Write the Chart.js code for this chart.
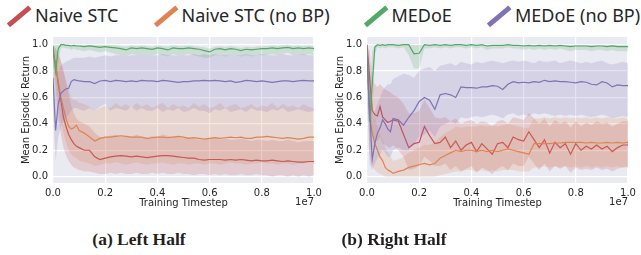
<!DOCTYPE html>
<html><head><meta charset="utf-8">
<script src="https://cdn.jsdelivr.net/npm/chart.js@4.4.1/dist/chart.umd.min.js"></script>
<style>
html,body{margin:0;padding:0;background:#fff;width:641px;height:255px;overflow:hidden;position:relative;font-family:"Noto Sans",sans-serif;}
.mk{position:absolute;width:28px;height:4.5px;transform:rotate(-40deg);transform-origin:center;}
.lt{position:absolute;top:4px;font-size:18px;line-height:22px;color:#262626;white-space:nowrap;}
.cap{position:absolute;top:229px;font-family:"Liberation Serif",serif;font-weight:bold;font-size:17.5px;color:#231f20;white-space:nowrap;transform:translateX(-50%);}
canvas{position:absolute;top:30px;}
</style></head><body>
<div id="legend"></div>
<canvas id="cA" width="324" height="190" style="left:0px"></canvas>
<canvas id="cB" width="324" height="190" style="left:313.5px"></canvas>
<div class="cap" style="left:139px">(a) Left Half</div>
<div class="cap" style="left:394px">(b) Right Half</div>
<script>
const seriesNames = ['Naive STC','Naive STC (no BP)','MEDoE','MEDoE (no BP)'];
const seriesColors = ['#c44e52','#dd8452','#55a868','#8172b3'];
const xTicks = [0,0.2,0.4,0.6,0.8,1.0];
const yTicks = [0,0.2,0.4,0.6,0.8,1.0];
const X = [0,0.01,0.02,0.03,0.04,0.05,0.06,0.07,0.08,0.09,0.10,0.12,0.14,0.16,0.18,0.20,0.22,0.24,0.26,0.28,0.30,0.32,0.34,0.36,0.38,0.40,0.42,0.44,0.46,0.48,0.50,0.52,0.54,0.56,0.58,0.60,0.62,0.64,0.66,0.68,0.70,0.72,0.74,0.76,0.78,0.80,0.82,0.84,0.86,0.88,0.90,0.92,0.94,0.96,0.98,1.00];

// ---- (a) Left Half ----
const aRed   = [0.95,0.85,0.7,0.58,0.45,0.38,0.32,0.28,0.25,0.23, 0.22,0.2,0.2,0.15,0.13,0.14,0.15,0.155,0.16,0.155, 0.15,0.155,0.15,0.145,0.15,0.155,0.16,0.16,0.155,0.15, 0.145,0.14,0.14,0.13,0.125,0.13,0.13,0.13,0.125,0.13, 0.125,0.13,0.125,0.12,0.125,0.12,0.12,0.125,0.12,0.115, 0.12,0.115,0.11,0.11,0.115,0.115];
const aRedLo = [0.88,0.65,0.45,0.32,0.22,0.16,0.12,0.09,0.07,0.06, 0.05,0.04,0.04,0.03,0.02,0.02,0.03,0.02,0.03,0.02, 0.02,0.03,0.02,0.02,0.03,0.02,0.03,0.02,0.02,0.03, 0.02,0.02,0.01,0.02,0.02,0.01,0.02,0.01,0.02,0.01, 0.01,0.02,0.01,0.01,0.02,0.01,0.01,0.0,0.01,0.01, 0.0,0.01,0.0,0.01,0.0,0.01];
const aRedHi = [0.99,0.97,0.93,0.88,0.8,0.72,0.62,0.54,0.48,0.44, 0.42,0.4,0.38,0.33,0.3,0.3,0.31,0.32,0.3,0.31, 0.3,0.32,0.3,0.29,0.31,0.3,0.32,0.31,0.3,0.3, 0.29,0.3,0.29,0.28,0.28,0.29,0.3,0.28,0.29,0.28, 0.28,0.29,0.28,0.27,0.28,0.28,0.27,0.28,0.27,0.27, 0.28,0.27,0.26,0.27,0.27,0.27];
const aOrg   = [0.95,0.85,0.72,0.6,0.52,0.44,0.38,0.36,0.37,0.39, 0.35,0.33,0.3,0.27,0.29,0.3,0.3,0.305,0.31,0.305, 0.3,0.3,0.3,0.29,0.295,0.3,0.3,0.295,0.3,0.305, 0.3,0.29,0.295,0.29,0.285,0.29,0.295,0.29,0.295,0.3, 0.295,0.3,0.29,0.29,0.3,0.3,0.305,0.3,0.295,0.29, 0.295,0.29,0.285,0.29,0.3,0.3];
const aOrgLo = [0.9,0.72,0.55,0.42,0.33,0.26,0.2,0.17,0.15,0.14, 0.12,0.11,0.1,0.08,0.09,0.1,0.1,0.11,0.1,0.09, 0.1,0.11,0.1,0.09,0.1,0.1,0.11,0.1,0.09,0.1, 0.1,0.09,0.1,0.1,0.09,0.1,0.1,0.09,0.1,0.11, 0.1,0.1,0.09,0.1,0.1,0.11,0.1,0.1,0.09,0.1, 0.1,0.09,0.1,0.1,0.11,0.1];
const aOrgHi = [1.0,0.97,0.93,0.88,0.8,0.72,0.66,0.6,0.58,0.58, 0.56,0.55,0.53,0.5,0.52,0.54,0.52,0.56,0.53,0.55, 0.52,0.56,0.53,0.55,0.52,0.54,0.56,0.52,0.55,0.53, 0.54,0.52,0.56,0.53,0.55,0.52,0.53,0.56,0.52,0.54, 0.55,0.52,0.53,0.55,0.52,0.54,0.53,0.56,0.52,0.55, 0.53,0.54,0.52,0.55,0.53,0.52];
const aGrn   = [0.99,0.80,0.97,1.0,1.0,0.995,0.995,0.99,0.995,0.99, 0.99,0.985,0.99,0.985,0.98,0.985,0.98,0.975,0.97,0.96, 0.975,0.97,0.975,0.97,0.965,0.975,0.97,0.96,0.975,0.97, 0.97,0.975,0.97,0.965,0.955,0.945,0.965,0.97,0.96,0.97, 0.965,0.955,0.965,0.96,0.965,0.97,0.97,0.975,0.97,0.975, 0.98,0.97,0.975,0.97,0.975,0.97];
const aGrnLo = [0.95,0.55,0.85,0.97,0.98,0.97,0.97,0.96,0.97,0.96, 0.96,0.95,0.96,0.95,0.94,0.95,0.94,0.93,0.92,0.91, 0.93,0.92,0.93,0.92,0.92,0.93,0.92,0.91,0.93,0.92, 0.92,0.93,0.92,0.91,0.9,0.9,0.92,0.92,0.91,0.92, 0.92,0.91,0.92,0.91,0.92,0.92,0.92,0.93,0.92,0.93, 0.94,0.92,0.93,0.92,0.93,0.92];
const aGrnHi = [1,1,1,1,1,1,1,1,1,1, 1,1,1,1,1,1,1,0.995,0.99,0.985, 0.995,0.99,0.995,0.99,0.985,0.995,0.99,0.985,0.995,0.99, 0.99,0.995,0.99,0.985,0.98,0.97,0.985,0.99,0.98,0.99, 0.985,0.975,0.985,0.98,0.985,0.99,0.99,0.995,0.99,0.995, 1,0.99,0.995,0.99,0.995,0.99];
const aPur   = [0.75,0.35,0.55,0.63,0.65,0.665,0.67,0.72,0.735,0.73, 0.725,0.72,0.72,0.705,0.725,0.73,0.72,0.73,0.725,0.72, 0.725,0.72,0.73,0.725,0.725,0.72,0.73,0.725,0.72,0.715, 0.72,0.72,0.725,0.725,0.73,0.725,0.73,0.725,0.72,0.725, 0.715,0.72,0.73,0.725,0.72,0.725,0.72,0.715,0.72,0.725, 0.725,0.72,0.725,0.73,0.725,0.725];
const aPurLo = [0.5,0.12,0.3,0.38,0.42,0.45,0.47,0.5,0.52,0.52, 0.51,0.5,0.52,0.5,0.53,0.55,0.5,0.52,0.51,0.5, 0.53,0.5,0.52,0.5,0.5,0.52,0.49,0.51,0.5,0.52, 0.49,0.5,0.52,0.5,0.5,0.48,0.51,0.5,0.52,0.49, 0.5,0.51,0.49,0.52,0.5,0.5,0.49,0.51,0.5,0.52, 0.49,0.5,0.51,0.5,0.49,0.5];
const aPurHi = [0.97,0.6,0.8,0.84,0.86,0.87,0.88,0.89,0.9,0.9, 0.9,0.9,0.91,0.9,0.91,0.92,0.91,0.92,0.92,0.91, 0.92,0.92,0.93,0.92,0.92,0.92,0.93,0.92,0.92,0.92, 0.92,0.92,0.93,0.92,0.93,0.92,0.93,0.92,0.92,0.92, 0.92,0.92,0.93,0.92,0.92,0.93,0.92,0.92,0.92,0.93, 0.92,0.92,0.93,0.93,0.92,0.92];

// ---- (b) Right Half ----
const bRed   = [1.0,0.75,0.5,0.47,0.46,0.53,0.45,0.43,0.41,0.42, 0.43,0.42,0.32,0.22,0.25,0.26,0.38,0.31,0.25,0.26, 0.3,0.22,0.27,0.2,0.24,0.26,0.19,0.25,0.21,0.17, 0.25,0.26,0.22,0.3,0.28,0.27,0.34,0.28,0.22,0.28, 0.18,0.26,0.22,0.25,0.17,0.25,0.2,0.23,0.21,0.24, 0.21,0.23,0.19,0.22,0.24,0.24];
const bRedLo = [0.95,0.5,0.3,0.28,0.27,0.3,0.25,0.24,0.22,0.22, 0.24,0.2,0.15,0.05,0.06,0.08,0.15,0.12,0.08,0.08, 0.1,0.05,0.08,0.04,0.06,0.08,0.03,0.07,0.05,0.02, 0.06,0.08,0.05,0.1,0.08,0.08,0.15,0.1,0.05,0.1, 0.04,0.08,0.06,0.08,0.03,0.07,0.05,0.06,0.05,0.07, 0.05,0.06,0.04,0.06,0.07,0.07];
const bRedHi = [1.0,0.95,0.75,0.7,0.68,0.7,0.68,0.66,0.65,0.64, 0.62,0.6,0.55,0.48,0.48,0.5,0.58,0.52,0.45,0.44, 0.45,0.42,0.44,0.4,0.42,0.43,0.4,0.42,0.41,0.38, 0.42,0.43,0.4,0.45,0.44,0.43,0.48,0.44,0.4,0.44, 0.38,0.43,0.4,0.42,0.37,0.42,0.38,0.41,0.39,0.42, 0.4,0.41,0.38,0.4,0.42,0.42];
const bOrg   = [0.95,0.45,0.33,0.25,0.2,0.15,0.12,0.07,0.05,0.04, 0.025,0.04,0.05,0.07,0.08,0.09,0.1,0.09,0.1,0.14, 0.16,0.18,0.2,0.19,0.2,0.2,0.19,0.2,0.19,0.2, 0.19,0.2,0.21,0.2,0.19,0.18,0.17,0.25,0.25,0.25, 0.25,0.255,0.255,0.26,0.26,0.26,0.26,0.255,0.26,0.255, 0.255,0.26,0.255,0.26,0.255,0.26];
const bOrgLo = [0.85,0.15,0.08,0.05,0.03,0.02,0.01,0,0,0, 0,0,0,0,0,0,0,0,0,0.01, 0.02,0.03,0.04,0.04,0.05,0.05,0.04,0.05,0.04,0.05, 0.04,0.05,0.05,0.05,0.04,0.04,0.04,0.07,0.07,0.08, 0.07,0.08,0.07,0.08,0.07,0.08,0.07,0.08,0.07,0.08, 0.07,0.08,0.07,0.08,0.07,0.08];
const bOrgHi = [1.0,0.8,0.55,0.45,0.38,0.32,0.28,0.22,0.18,0.15, 0.12,0.13,0.15,0.18,0.2,0.22,0.24,0.24,0.26,0.3, 0.33,0.35,0.38,0.37,0.38,0.38,0.38,0.39,0.38,0.39, 0.38,0.39,0.4,0.39,0.38,0.37,0.37,0.44,0.44,0.45, 0.44,0.45,0.44,0.45,0.44,0.45,0.44,0.45,0.44,0.45, 0.44,0.45,0.44,0.44,0.45,0.44];
const bGrn   = [0.98,0.42,0.7,0.98,1.0,0.995,1.0,0.995,1.0,1.0, 1.0,0.995,1.0,1.0,0.93,0.935,1.0,0.995,1.0,0.995, 1.0,0.995,1.0,1.0,0.995,1.0,0.995,1.0,0.99,0.995, 0.995,0.995,1.0,0.995,0.995,0.99,0.995,0.99,0.995,0.99, 0.995,0.99,0.995,0.99,0.985,0.99,0.99,0.99,0.985,0.99, 0.99,0.985,0.99,0.985,0.985,0.985];
const bGrnLo = [0.9,0.15,0.4,0.93,0.98,0.97,0.98,0.97,0.98,0.98, 0.98,0.97,0.98,0.92,0.82,0.82,0.97,0.97,0.98,0.97, 0.98,0.97,0.98,0.98,0.97,0.98,0.97,0.98,0.96,0.97, 0.97,0.97,0.98,0.97,0.97,0.96,0.97,0.96,0.97,0.96, 0.97,0.96,0.97,0.96,0.95,0.96,0.96,0.96,0.95,0.96, 0.96,0.95,0.96,0.95,0.95,0.95];
const bGrnHi = [1.0,0.7,0.95,1,1,1,1,1,1,1, 1,1,1,1,1,1,1,1,1,1, 1,1,1,1,1,1,1,1,1,1, 1,1,1,1,1,1,1,1,1,1, 1,1,1,1,1,1,1,1,1,1, 1,1,1,1,1,1];
const bPur   = [0.9,0.5,0.13,0.25,0.33,0.37,0.43,0.4,0.36,0.34, 0.44,0.43,0.39,0.45,0.5,0.57,0.6,0.58,0.51,0.62, 0.63,0.62,0.6,0.68,0.675,0.675,0.67,0.68,0.68,0.69, 0.685,0.66,0.7,0.72,0.71,0.715,0.71,0.72,0.715,0.73, 0.72,0.725,0.72,0.72,0.715,0.71,0.72,0.715,0.7,0.695, 0.72,0.71,0.68,0.695,0.69,0.69];
const bPurLo = [0.6,0.1,0.05,0.1,0.14,0.17,0.2,0.18,0.15,0.15, 0.2,0.22,0.2,0.2,0.25,0.3,0.32,0.35,0.3,0.38, 0.4,0.42,0.4,0.45,0.44,0.45,0.46,0.45,0.46,0.47, 0.46,0.44,0.47,0.48,0.46,0.47,0.46,0.48,0.47,0.48, 0.47,0.46,0.47,0.46,0.47,0.46,0.47,0.46,0.45,0.46, 0.47,0.46,0.44,0.45,0.46,0.45];
const bPurHi = [0.95,0.85,0.4,0.5,0.55,0.6,0.65,0.68,0.7,0.7, 0.74,0.76,0.78,0.77,0.75,0.8,0.82,0.83,0.8,0.84, 0.85,0.86,0.84,0.87,0.86,0.85,0.87,0.86,0.87,0.88, 0.87,0.86,0.87,0.88,0.87,0.88,0.87,0.86,0.88,0.87, 0.87,0.88,0.86,0.87,0.88,0.87,0.86,0.87,0.86,0.87, 0.88,0.86,0.85,0.86,0.87,0.86];

// ---- legend (HTML) ----
const legendPos = [[8,35],[155,181.5],[365,391.5],[488,515]];
const lg = document.getElementById('legend');
seriesNames.forEach((n,i)=>{
  const m = document.createElement('div'); m.className='mk';
  m.style.left = (legendPos[i][0]-3)+'px'; m.style.top='14px'; m.style.background=seriesColors[i];
  const t = document.createElement('div'); t.className='lt'; t.textContent=n;
  t.style.left = legendPos[i][1]+'px';
  lg.appendChild(m); lg.appendChild(t);
});

function rgba(hex,a){const n=parseInt(hex.slice(1),16);return `rgba(${n>>16},${(n>>8)&255},${n&255},${a})`;}
const pts = arr => X.map((x,i)=>({x:x,y:arr[i]}));

function buildDatasets(groups){
  const ds=[];
  groups.forEach(g=>{
    ds.push({data:pts(g.mean),borderColor:g.color,borderWidth:1.2,pointRadius:0,fill:false,tension:0});
    ds.push({data:pts(g.lo),borderWidth:0,borderColor:'rgba(0,0,0,0)',pointRadius:0,fill:false});
    ds.push({data:pts(g.hi),borderWidth:0,borderColor:'rgba(0,0,0,0)',pointRadius:0,fill:'-1',backgroundColor:rgba(g.color,0.2)});
  });
  return ds;
}

const bgPlugin = {
  id:'bg',
  beforeDraw(c){const a=c.chartArea,ctx=c.ctx;ctx.save();ctx.fillStyle='#eaeaf2';ctx.fillRect(a.left,a.top,a.right-a.left,a.bottom-a.top);ctx.restore();},
  afterDraw(c){const a=c.chartArea,ctx=c.ctx;ctx.save();ctx.font='10px "DejaVu Sans"';ctx.fillStyle='#262626';ctx.textAlign='right';ctx.textBaseline='middle';ctx.fillText('1e7',a.right,172);ctx.restore();}
};

function makeChart(id, groups){
  return new Chart(document.getElementById(id),{
    type:'line',
    data:{datasets:buildDatasets(groups)},
    options:{
      responsive:false,animation:false,devicePixelRatio:1,
      layout:{padding:{top:7,right:10,bottom:0,left:0}},
      plugins:{legend:{display:false},tooltip:{enabled:false}},
      scales:{
        x:{type:'linear',min:0,max:1,
          afterBuildTicks:s=>{s.ticks=xTicks.map(v=>({value:v}));},
          afterFit:s=>{s.height=37;s.paddingLeft=0;s.paddingRight=0;},
          border:{display:false},
          grid:{color:'#ffffff',lineWidth:1.2,drawTicks:false},
          ticks:{padding:4,color:'#262626',font:{family:'DejaVu Sans',size:10},maxRotation:0,callback:v=>v.toFixed(1)},
          title:{display:true,text:'Training Timestep',color:'#262626',font:{family:'DejaVu Sans',size:10},padding:{top:0,bottom:11}}
        },
        y:{type:'linear',min:-0.048,max:1.058,
          afterBuildTicks:s=>{s.ticks=yTicks.map(v=>({value:v}));},
          afterFit:s=>{s.width=53;s.paddingTop=0;s.paddingBottom=0;},
          border:{display:false},
          grid:{color:'#ffffff',lineWidth:1.2,drawTicks:false},
          ticks:{padding:5,color:'#262626',font:{family:'DejaVu Sans',size:10},callback:v=>v.toFixed(1)},
          title:{display:true,text:'Mean Episodic Return',color:'#262626',font:{family:'DejaVu Sans',size:10},padding:{top:20,bottom:0}}
        }
      }
    },
    plugins:[bgPlugin]
  });
}

makeChart('cA',[
  {color:seriesColors[3],mean:aPur,lo:aPurLo,hi:aPurHi},
  {color:seriesColors[2],mean:aGrn,lo:aGrnLo,hi:aGrnHi},
  {color:seriesColors[1],mean:aOrg,lo:aOrgLo,hi:aOrgHi},
  {color:seriesColors[0],mean:aRed,lo:aRedLo,hi:aRedHi}
]);
makeChart('cB',[
  {color:seriesColors[3],mean:bPur,lo:bPurLo,hi:bPurHi},
  {color:seriesColors[2],mean:bGrn,lo:bGrnLo,hi:bGrnHi},
  {color:seriesColors[1],mean:bOrg,lo:bOrgLo,hi:bOrgHi},
  {color:seriesColors[0],mean:bRed,lo:bRedLo,hi:bRedHi}
]);
</script>
</body></html>
